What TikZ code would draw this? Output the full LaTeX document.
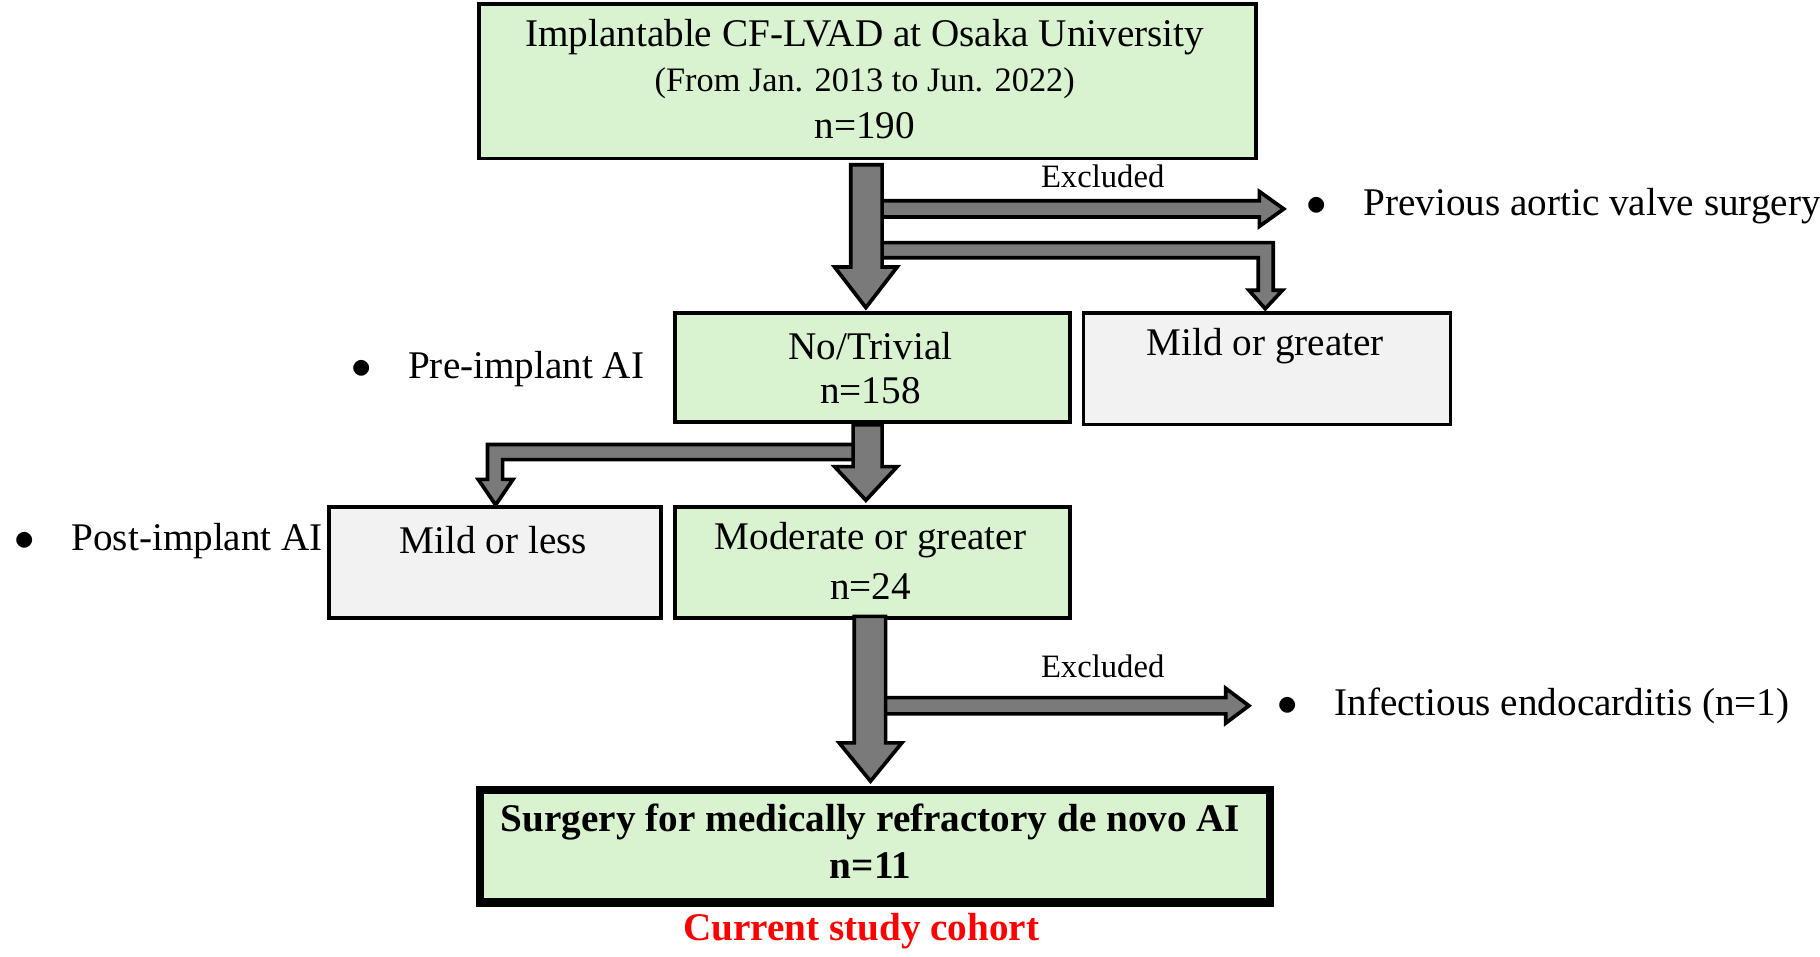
\documentclass[tikz,border=0pt]{standalone}
\usepackage{fontspec}
\setmainfont{Liberation Serif}
\usetikzlibrary{positioning}
\definecolor{boxgreen}{HTML}{D9F2D0}
\definecolor{boxgray}{HTML}{F2F2F2}
\begin{document}
\begin{tikzpicture}[x=0.01cm,y=-0.01cm,
  font=\fontsize{9.6}{12}\selectfont,
  main box/.style={draw,fill=boxgreen,inner sep=0pt,line width=0.9pt},
  side box/.style={draw,fill=boxgray,inner sep=0pt,line width=0.9pt},
  fat arrow/.style={draw=black,fill=black!52,line width=0.9pt,line join=miter},
  small font/.style={font=\fontsize{8}{10}\selectfont}]
  \useasboundingbox (0,0) rectangle (1568,824);
  % boxes
  \node[main box,minimum width=6.69cm,minimum height=1.33cm,anchor=north west] (cohort) at (411,2) {};
  \node[main box,minimum width=3.40cm,minimum height=0.94cm,anchor=north west] (trivial) at (580,268) {};
  \node[side box,minimum width=3.16cm,minimum height=0.96cm,anchor=north west] (mildgr) at (932,268) {};
  \node[side box,minimum width=2.86cm,minimum height=0.96cm,anchor=north west] (mildless) at (282,435) {};
  \node[main box,minimum width=3.40cm,minimum height=0.96cm,anchor=north west] (moderate) at (580,435) {};
  \node[main box,line width=2pt,minimum width=6.80cm,minimum height=0.97cm,anchor=north west] (surgery) at (410,677) {};
  \node at (745,32) {Implantable CF-LVAD at Osaka University};
  \node[font=\fontsize{8.4}{10}\selectfont] at (745,72) {(From Jan. 2013 to Jun. 2022)};
  \node at (745,108) {n=190};
  \node at (750,298) {No/Trivial};
  \node at (750,337) {n=158};
  \node at (1090,298) {Mild or greater};
  \node at (425,465) {Mild or less};
  \node at (750,465) {Moderate or greater};
  \node at (750,505) {n=24};
  \node[font=\fontsize{9.6}{12}\selectfont\bfseries] at (750,708) {Surgery for medically refractory de novo AI};
  \node[font=\fontsize{9.6}{12}\selectfont\bfseries] at (750,746) {n=11};
  \node[font=\fontsize{9.6}{12}\selectfont\bfseries,text=red] (cur) at (742,802) {Current study cohort};
  % side labels
  \node[anchor=west] (pre) at (290,318) {$\bullet$\hspace{9pt}Pre-implant AI};
  \node[anchor=west] (post) at (0,466) {$\bullet$\hspace{9pt}Post-implant AI};
  \node[anchor=west] (prev) at (1113,178) {$\bullet$\hspace{9pt}Previous aortic valve surgery};
  \node[anchor=west] (ie) at (1088,608) {$\bullet$\hspace{9pt}Infectious endocarditis (n=1)};
  \node[small font] (exc1) at (950,152) {Excluded};
  \node[small font] (exc2) at (950,574) {Excluded};
  % block arrows
  \draw[fat arrow] (755,173) -- (1085,173) -- (1085,165) -- (1106,180) -- (1085,195) -- (1085,187) -- (755,187) -- cycle;
  \draw[fat arrow] (755,209) -- (1097,209) -- (1097,250) -- (1105,250) -- (1090,266) -- (1076,250) -- (1084,250) -- (1084,222) -- (755,222) -- cycle;
  \draw[fat arrow] (733,142) -- (760,142) -- (760,230) -- (773,230) -- (746,265) -- (719,230) -- (733,230) -- cycle;
  \draw[fat arrow] (740,383) -- (420,383) -- (420,413) -- (412,413) -- (427,435) -- (442,413) -- (433,413) -- (433,396) -- (740,396) -- cycle;
  \draw[fat arrow] (735,366) -- (760,366) -- (760,402) -- (773,402) -- (746,431) -- (719,402) -- (735,402) -- cycle;
  \draw[fat arrow] (758,601) -- (1056,601) -- (1056,593) -- (1076,608) -- (1056,623) -- (1056,615) -- (758,615) -- cycle;
  \draw[fat arrow] (736,531) -- (763,531) -- (763,640) -- (777,640) -- (750,673) -- (723,640) -- (736,640) -- cycle;
\end{tikzpicture}
\end{document}
